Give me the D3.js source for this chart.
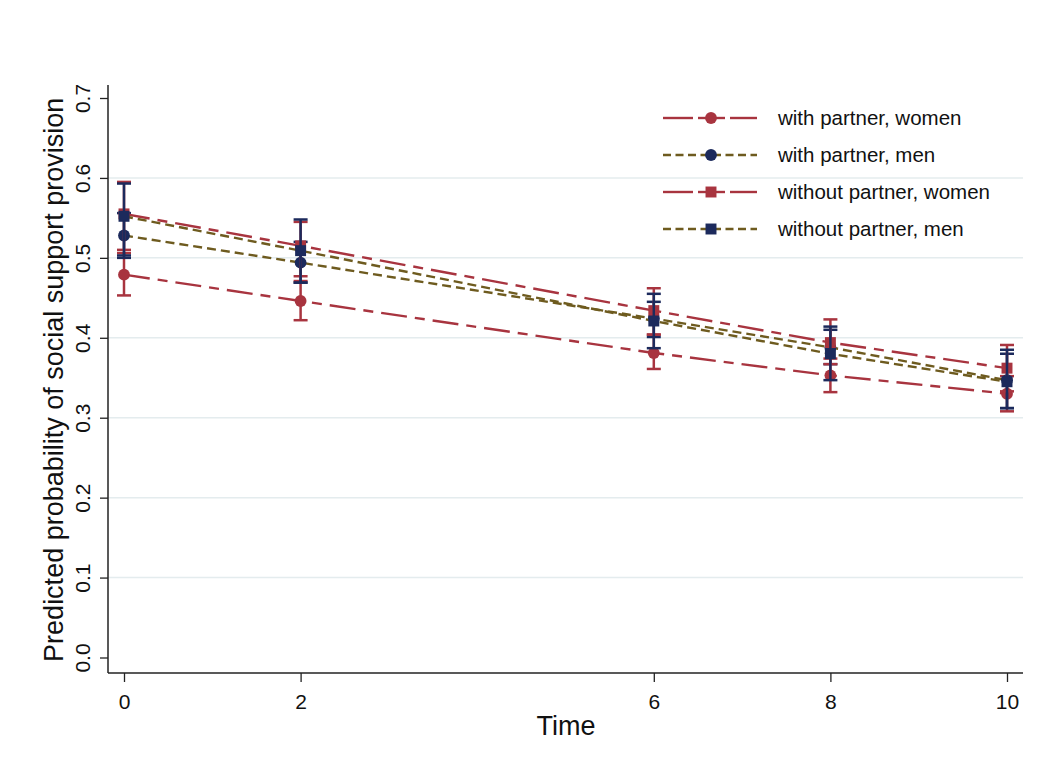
<!DOCTYPE html>
<html>
<head>
    <meta charset="utf-8">
    <style>
        body { margin: 0; background: #fff; }
        svg { display: block; font-family: 'Liberation Sans', Arial, sans-serif; }
        .tick line { stroke: #222; stroke-width: 1.3; }
        .legend text { font-size: 20.5px; fill: #111; }
    </style>
</head>
<body>
<svg width="1039" height="764"></svg>

<script src="https://d3js.org/d3.v7.min.js"></script>
<script>
    // time points on the x axis
    let times = [0, 2, 6, 8, 10];
    let yTicks = [0, 0.1, 0.2, 0.3, 0.4, 0.5, 0.6, 0.7];

    let seriesNames = ["with partner, women", "with partner, men", "without partner, women", "without partner, men"];

    // predicted probabilities and 95% CI
    let wpWomen   = [0.479, 0.446, 0.381, 0.353, 0.330];
    let wpWomenLo = [0.453, 0.422, 0.361, 0.332, 0.308];
    let wpWomenHi = [0.506, 0.471, 0.404, 0.374, 0.352];

    let wpMen   = [0.528, 0.494, 0.424, 0.388, 0.347];
    let wpMenLo = [0.500, 0.469, 0.401, 0.367, 0.312];
    let wpMenHi = [0.556, 0.520, 0.445, 0.410, 0.380];

    let wopWomen   = [0.555, 0.515, 0.434, 0.394, 0.362];
    let wopWomenLo = [0.510, 0.477, 0.404, 0.367, 0.333];
    let wopWomenHi = [0.595, 0.545, 0.462, 0.423, 0.391];

    let wopMen   = [0.552, 0.509, 0.421, 0.380, 0.345];
    let wopMenLo = [0.503, 0.469, 0.387, 0.347, 0.312];
    let wopMenHi = [0.593, 0.548, 0.455, 0.414, 0.385];

    let red = "#a8343f";
    let navy = "#1c2a5c";
    let olive = "#6e5b1f";

    let styles = [
        { line: red,   mark: red,  dash: "26 8 10 8", shape: "circle" },
        { line: olive, mark: navy, dash: "9 5",       shape: "circle" },
        { line: red,   mark: red,  dash: "26 8 10 8", shape: "square" },
        { line: olive, mark: navy, dash: "9 5",       shape: "square" }
    ];

    let values = [wpWomen, wpMen, wopWomen, wopMen];
    let lows = [wpWomenLo, wpMenLo, wopWomenLo, wopMenLo];
    let highs = [wpWomenHi, wpMenHi, wopWomenHi, wopMenHi];

    let series = seriesNames.map((name, i) => ({
        name: name,
        style: styles[i],
        points: times.map((t, j) => ({ t: t, v: values[i][j], lo: lows[i][j], hi: highs[i][j] }))
    }));

    let svg = d3.select("svg");

    let axisX = 108, axisY = 673;

    let x = d3.scaleLinear()
        .domain([0, 10])
        .range([124, 1007]);

    let y = d3.scaleLinear()
        .domain([0, 0.7])
        .range([657.5, 98]);

    // grid lines
    svg.append("g")
        .selectAll("line")
        .data(yTicks.filter(d => d > 0 && d < 0.7))
        .join("line")
        .attr("x1", axisX)
        .attr("x2", 1023)
        .attr("y1", d => y(d))
        .attr("y2", d => y(d))
        .attr("stroke", "#e4ecee")
        .attr("stroke-width", 1.5);

    // axes
    let yAxis = svg.append("g")
        .attr("transform", `translate(${axisX},0)`)
        .call(d3.axisLeft(y).tickValues(yTicks).tickSize(8).tickFormat(d3.format(".1f")));
    yAxis.select(".domain").remove();
    yAxis.selectAll(".tick text")
        .attr("x", null).attr("dy", null)
        .attr("transform", "translate(-18,0) rotate(-90)")
        .style("text-anchor", "middle")
        .style("font-size", "21px")
        .attr("fill", "#111");

    let xAxis = svg.append("g")
        .attr("transform", `translate(0,${axisY})`)
        .call(d3.axisBottom(x).tickValues(times).tickSize(9).tickPadding(12).tickFormat(d3.format("d")));
    xAxis.select(".domain").remove();
    xAxis.selectAll(".tick text")
        .style("font-size", "21px")
        .attr("fill", "#111");

    svg.append("line")
        .attr("x1", axisX).attr("x2", axisX)
        .attr("y1", 85).attr("y2", axisY)
        .attr("stroke", "#222").attr("stroke-width", 1.5);
    svg.append("line")
        .attr("x1", axisX).attr("x2", 1023)
        .attr("y1", axisY).attr("y2", axisY)
        .attr("stroke", "#222").attr("stroke-width", 1.5);

    // axis titles
    svg.append("text")
        .attr("transform", `translate(63,${(y(0) + y(0.7)) / 2 + 2}) rotate(-90)`)
        .style("text-anchor", "middle")
        .style("font-size", "27px")
        .attr("fill", "#111")
        .text("Predicted probability of social support provision");

    svg.append("text")
        .attr("x", 566)
        .attr("y", 735)
        .style("text-anchor", "middle")
        .style("font-size", "27px")
        .attr("fill", "#111")
        .text("Time");

    let line = d3.line()
        .x(d => x(d.t))
        .y(d => y(d.v));

    let capW = 7;

    series.forEach(s => {
        let g = svg.append("g");

        // confidence intervals
        g.selectAll(".ci")
            .data(s.points)
            .join("line")
            .attr("x1", d => x(d.t)).attr("x2", d => x(d.t))
            .attr("y1", d => y(d.lo)).attr("y2", d => y(d.hi))
            .attr("stroke", s.style.mark).attr("stroke-width", 2.5);
        g.selectAll(".caplo")
            .data(s.points)
            .join("line")
            .attr("x1", d => x(d.t) - capW).attr("x2", d => x(d.t) + capW)
            .attr("y1", d => y(d.lo)).attr("y2", d => y(d.lo))
            .attr("stroke", s.style.mark).attr("stroke-width", 2.5);
        g.selectAll(".caphi")
            .data(s.points)
            .join("line")
            .attr("x1", d => x(d.t) - capW).attr("x2", d => x(d.t) + capW)
            .attr("y1", d => y(d.hi)).attr("y2", d => y(d.hi))
            .attr("stroke", s.style.mark).attr("stroke-width", 2.5);

        g.append("path")
            .datum(s.points)
            .attr("d", line)
            .attr("fill", "none")
            .attr("stroke", s.style.line)
            .attr("stroke-width", 2.4)
            .attr("stroke-dasharray", s.style.dash);

        let sym = d3.symbol()
            .type(s.style.shape == "circle" ? d3.symbolCircle : d3.symbolSquare)
            .size(s.style.shape == "circle" ? 110 : 120);

        g.selectAll(".mk")
            .data(s.points)
            .join("path")
            .attr("transform", d => `translate(${x(d.t)},${y(d.v)})`)
            .attr("d", sym)
            .attr("fill", s.style.mark);
    });

    // legend
    let legend = svg.append("g").attr("class", "legend");
    series.forEach((s, i) => {
        let ly = 118 + i * 37;
        let row = legend.append("g");
        if (s.style.line == red) {
            [[663, 693], [698, 725], [730, 757]].forEach(seg => {
                row.append("line")
                    .attr("x1", seg[0]).attr("x2", seg[1])
                    .attr("y1", ly).attr("y2", ly)
                    .attr("stroke", s.style.line).attr("stroke-width", 2.4);
            });
        } else {
            row.append("line")
                .attr("x1", 663).attr("x2", 757)
                .attr("y1", ly).attr("y2", ly)
                .attr("stroke", s.style.line).attr("stroke-width", 2.4)
                .attr("stroke-dasharray", "8 4.5");
        }
        row.append("path")
            .attr("transform", `translate(711,${ly})`)
            .attr("d", d3.symbol()
                .type(s.style.shape == "circle" ? d3.symbolCircle : d3.symbolSquare)
                .size(s.style.shape == "circle" ? 110 : 120))
            .attr("fill", s.style.mark);
        row.append("text")
            .attr("x", 778)
            .attr("y", ly + 7)
            .text(s.name);
    });
</script>
</body>
</html>
